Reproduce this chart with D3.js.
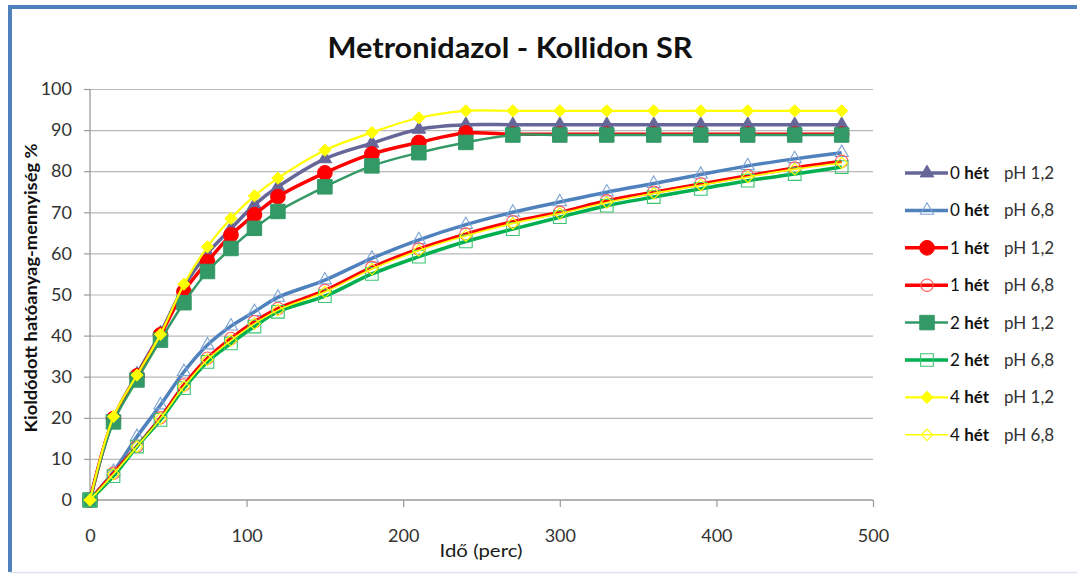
<!DOCTYPE html>
<html><head><meta charset="utf-8">
<script src="https://cdn.jsdelivr.net/npm/d3@7"></script>
<style>
body{margin:0;background:#fff;}
svg{display:block;font-family:Lato,'Open Sans',sans-serif;}
</style>
</head><body>
<svg id="chart" width="1077" height="574"></svg>
<script>
// ---------- data ----------
const time = [0,15,30,45,60,75,90,105,120,150,180,210,240,270,300,330,360,390,420,450,480];
const w0ph12 = [0,19.8,30.6,40.6,52.0,60.0,66.0,71.8,76.2,83.0,86.8,90.2,91.3,91.3,91.3,91.3,91.3,91.3,91.3,91.3,91.3];
const w0ph68 = [0,6.9,15.4,23.1,31.2,37.7,42.3,45.8,49.3,53.5,58.8,63.3,67.0,70.0,72.5,74.9,77.0,79.2,81.3,83.0,84.5];
const w1ph12 = [0,19.8,30.2,40.2,50.7,58.0,64.5,69.4,73.8,79.6,84.2,87.0,89.3,89.0,89.0,89.0,89.0,89.0,89.0,89.0,89.0];
const w1ph68 = [0,6.5,13.1,20.0,28.0,34.5,39.3,43.4,46.6,51.0,56.6,61.1,64.7,67.7,70.0,72.8,74.9,76.9,78.9,80.8,82.4];
const w2ph12 = [0,19.0,29.2,38.9,48.0,55.6,61.2,66.1,70.2,76.2,81.3,84.5,87.0,88.8,88.8,88.8,88.8,88.8,88.8,88.8,88.8];
const w2ph68 = [0,5.8,13.0,19.5,27.2,33.6,38.1,42.2,45.8,49.6,55.0,59.2,62.9,65.9,68.8,71.6,73.7,75.7,77.7,79.3,81.0];
const w4ph12 = [0,20.3,30.4,40.3,52.5,61.6,68.5,74.0,78.3,85.1,89.4,93.0,94.7,94.7,94.7,94.7,94.7,94.7,94.7,94.7,94.7];
const w4ph68 = [0,6.3,13.0,19.8,27.6,34.1,38.8,42.9,46.2,50.6,56.2,60.7,64.3,67.3,69.7,72.4,74.6,76.6,78.6,80.5,82.0];
const seriesValues = [w0ph12,w0ph68,w1ph12,w1ph68,w2ph12,w2ph68,w4ph12,w4ph68];
const weekLabels = ["0","0","1","1","2","2","4","4"];
const phLabels = ["pH 1,2","pH 6,8","pH 1,2","pH 6,8","pH 1,2","pH 6,8","pH 1,2","pH 6,8"];
const xTicks = [0,100,200,300,400,500];
const yTicks = [0,10,20,30,40,50,60,70,80,90,100];
const titleText = "Metronidazol - Kollidon SR";
const xTitle = "Idő (perc)";
const yTitle = "Kioldódott hatóanyag-mennyiség %";

// ---------- styles ----------
const styles = [
  {line:"#666699", lw:3.5, sym:d3.symbolTriangle, size:80, fill:"#666699", stroke:"#666699", sw:1},
  {line:"#4F81BD", lw:3.5, sym:d3.symbolTriangle, size:75, fill:"none", stroke:"#7CA3D6", sw:1.1},
  {line:"#FF0000", lw:3.5, sym:d3.symbolCircle, size:170, fill:"#FF0000", stroke:"#FF0000", sw:1},
  {line:"#FF0000", lw:3.5, sym:d3.symbolCircle, size:120, fill:"none", stroke:"#FF5A5A", sw:1.1},
  {line:"#339966", lw:2.5, sym:d3.symbolSquare, size:210, fill:"#339966", stroke:"#339966", sw:1},
  {line:"#00B050", lw:3.5, sym:d3.symbolSquare, size:160, fill:"none", stroke:"#3CC472", sw:1.1},
  {line:"#FFFF00", lw:2.2, sym:d3.symbolDiamond2, size:95, fill:"#FFFF00", stroke:"#FFFF00", sw:1},
  {line:"#FFFF00", lw:1.6, sym:d3.symbolDiamond2, size:85, fill:"none", stroke:"#FFFF00", sw:1.1}
];

const svg = d3.select("#chart");
const W = 1077, H = 574;

// border
svg.append("line").attr("x1",10).attr("x2",W).attr("y1",7).attr("y2",7).attr("stroke","#4F81BD").attr("stroke-width",4);
svg.append("line").attr("x1",10).attr("x2",10).attr("y1",5).attr("y2",572).attr("stroke","#4F81BD").attr("stroke-width",4);
svg.append("line").attr("x1",10).attr("x2",W).attr("y1",572.5).attr("y2",572.5).attr("stroke","#DCE3EE").attr("stroke-width",1.5);

const x = d3.scaleLinear().domain([0,500]).range([90,873]);
const y = d3.scaleLinear().domain([0,100]).range([500,89]);

// gridlines
svg.append("g").attr("transform","translate(90,0)")
  .call(d3.axisLeft(y).tickValues(yTicks.filter(v=>v>0)).tickSize(-(873-90)).tickFormat(""))
  .call(g=>g.select(".domain").remove())
  .call(g=>g.selectAll(".tick line").attr("stroke","#B8B8B8").attr("stroke-width",1.2));

// y axis
const ya = svg.append("g").attr("transform","translate(90,0)")
  .call(d3.axisLeft(y).tickValues(yTicks).tickSize(6).tickPadding(12));
ya.select(".domain").attr("stroke","#9A9A9A").attr("stroke-width",1.3).attr("d","M0,89V500");
ya.selectAll(".tick line").attr("stroke","#9A9A9A").attr("stroke-width",1.2);
ya.selectAll(".tick text").attr("font-size",18).attr("fill","#333").attr("font-family","Lato,'Open Sans',sans-serif");

// x axis
const xa = svg.append("g").attr("transform","translate(0,500)")
  .call(d3.axisBottom(x).tickValues(xTicks).tickSize(7).tickPadding(22));
xa.select(".domain").attr("stroke","#9A9A9A").attr("stroke-width",1.3).attr("d","M90,0H873");
xa.selectAll(".tick line").attr("stroke","#9A9A9A").attr("stroke-width",1.2);
xa.selectAll(".tick text").attr("font-size",18).attr("fill","#333").attr("font-family","Lato,'Open Sans',sans-serif");

// series
const line = d3.line().x(d=>x(d[0])).y(d=>y(d[1])).curve(d3.curveCatmullRom.alpha(0.5));
seriesValues.forEach((vals,i)=>{
  const st = styles[i];
  const pts = time.map((t,j)=>[t,vals[j]]);
  const g = svg.append("g");
  g.append("path").attr("d",line(pts)).attr("fill","none").attr("stroke",st.line).attr("stroke-width",st.lw).attr("stroke-linejoin","round");
  g.selectAll("path.m").data(pts).join("path").attr("class","m")
    .attr("transform",d=>`translate(${x(d[0])},${y(d[1])})`)
    .attr("d",d3.symbol().type(st.sym).size(st.size))
    .attr("fill",st.fill).attr("stroke",st.stroke).attr("stroke-width",st.sw);
});

// title
svg.append("text").attr("x",510).attr("y",58).attr("text-anchor","middle")
  .attr("font-size",29).attr("font-weight","bold").attr("fill","#111")
  .attr("textLength",365).attr("lengthAdjust","spacingAndGlyphs").text(titleText);

// axis titles
svg.append("text").attr("x",481).attr("y",557).attr("text-anchor","middle")
  .attr("font-size",18).attr("fill","#1a1a1a").attr("textLength",83).attr("lengthAdjust","spacingAndGlyphs").text(xTitle);
svg.append("text").attr("transform","translate(37,288) rotate(-90)").attr("text-anchor","middle")
  .attr("font-size",17).attr("font-weight","bold").attr("fill","#111")
  .attr("textLength",289).attr("lengthAdjust","spacingAndGlyphs").text(yTitle);

// legend
const lg = svg.append("g");
seriesValues.forEach((vals,i)=>{
  const st = styles[i];
  const ly = 173 + i*37.4;
  lg.append("line").attr("x1",905).attr("x2",948).attr("y1",ly).attr("y2",ly)
    .attr("stroke",st.line).attr("stroke-width",st.lw);
  lg.append("path").attr("transform",`translate(927,${ly})`)
    .attr("d",d3.symbol().type(st.sym).size(st.size))
    .attr("fill",st.fill).attr("stroke",st.stroke).attr("stroke-width",st.sw);
  const t = lg.append("text").attr("x",950).attr("y",ly+6).attr("font-size",17).attr("fill","#111");
  t.append("tspan").text(weekLabels[i]+" ");
  t.append("tspan").attr("font-weight","bold").text("hét");
  lg.append("text").attr("x",1004).attr("y",ly+6).attr("font-size",17).attr("fill","#333").text(phLabels[i]);
});
</script>
</body></html>
